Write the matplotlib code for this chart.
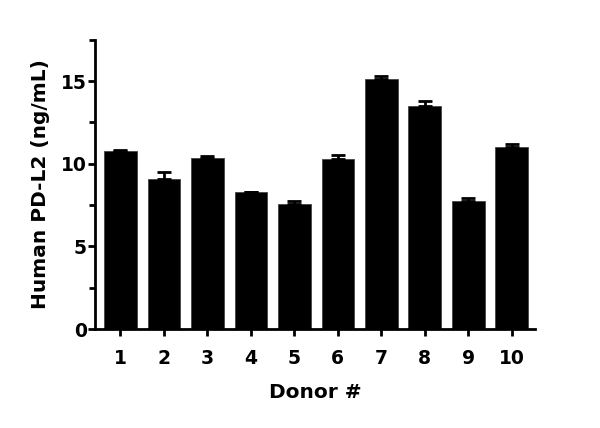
import matplotlib
matplotlib.use('Agg')
import matplotlib.pyplot as plt
import numpy as np
from matplotlib.ticker import MultipleLocator

donors = ['1', '2', '3', '4', '5', '6', '7', '8', '9', '10']
means = [10.8, 9.08, 10.33, 8.27, 7.58, 10.31, 15.14, 13.48, 7.78, 11.02]
errs = [0.03, 0.4, 0.12, 0.03, 0.14, 0.2, 0.2, 0.31, 0.18, 0.2]

plt.rcParams['font.family'] = ['DejaVu Sans']
plt.rcParams['font.weight'] = 'bold'

fig = plt.figure(figsize=(6, 4.28), dpi=100)
ax = fig.add_axes([0.158, 0.231, 0.734, 0.676])

x = np.arange(1, len(donors) + 1)
ax.bar(x, means, width=0.75, color='black', edgecolor='#444444', linewidth=0.6, zorder=2)
ax.errorbar(x, means, yerr=[np.zeros(len(errs)), errs], fmt='none', ecolor='black',
            elinewidth=2, capsize=5, capthick=2, zorder=3)

ax.set_xlim(0.41, 10.54)
ax.set_ylim(0, 17.5)
ax.set_xticks(x)
ax.set_xticklabels(donors)
ax.yaxis.set_major_locator(MultipleLocator(5))
ax.yaxis.set_minor_locator(MultipleLocator(2.5))

for s in ['top', 'right']:
    ax.spines[s].set_visible(False)
for s in ['left', 'bottom']:
    ax.spines[s].set_linewidth(2)

ax.tick_params(axis='both', which='major', width=2, length=4.8, labelsize=13.5)
ax.tick_params(axis='x', which='major', pad=9.5)
ax.tick_params(axis='y', which='major', pad=0.8)
ax.tick_params(axis='y', which='minor', width=2, length=4.2)

ax.set_xlabel('Donor #', fontsize=14.5, fontweight='bold', labelpad=11)
ax.set_ylabel('Human PD-L2 (ng/mL)', fontsize=14.5, fontweight='bold', labelpad=8)

fig.savefig('out.png', dpi=100)
